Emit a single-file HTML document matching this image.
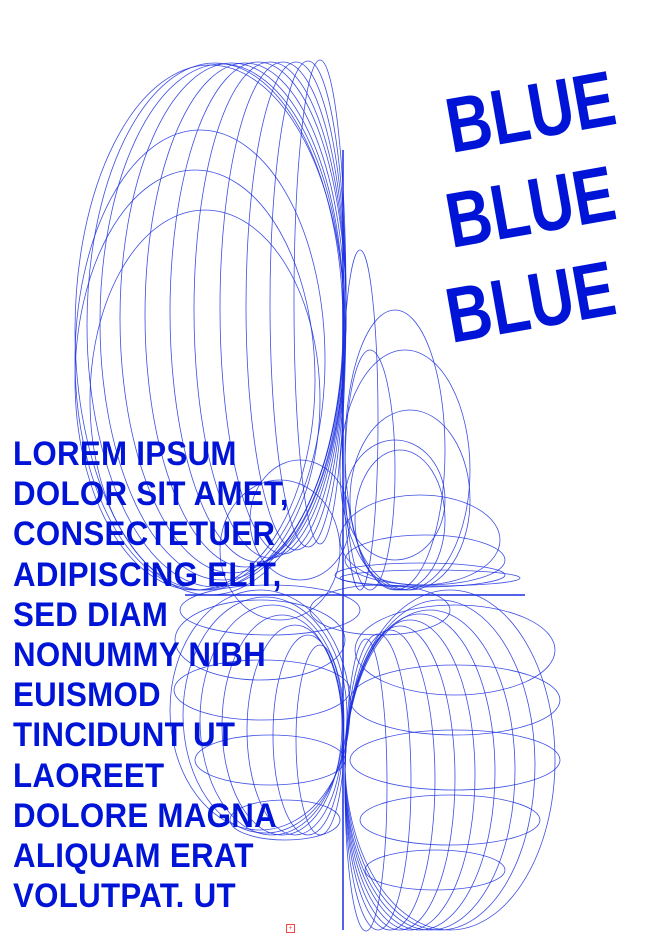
<!DOCTYPE html>
<html><head><meta charset="utf-8">
<style>
html,body{margin:0;padding:0;background:#fff;}
#poster{position:relative;width:660px;height:936px;overflow:hidden;background:#fff;}
svg{position:absolute;left:0;top:0;}
.blue{position:absolute;font-family:"Liberation Sans",sans-serif;font-weight:bold;color:#0014d8;font-size:78px;letter-spacing:0px;transform:rotate(-10deg) scaleX(0.8);transform-origin:left top;line-height:1}
#body-text{position:absolute;left:13px;top:434px;font-family:"Liberation Sans",sans-serif;font-weight:bold;color:#0014d8;font-size:34px;line-height:40.2px;letter-spacing:0.3px;white-space:pre;transform:scaleX(0.92);transform-origin:left top}
#mark{position:absolute;left:286px;top:924px;width:7px;height:7px;border:1px solid #f44;font-size:7px;line-height:7px;text-align:center;color:#f44;font-family:"Liberation Sans",sans-serif}
</style></head>
<body>
<div id="poster">
<svg id="wire" width="660" height="936"></svg>
<div class="blue" style="left:440px;top:88px">BLUE</div>
<div class="blue" style="left:440px;top:183px">BLUE</div>
<div class="blue" style="left:440px;top:278px">BLUE</div>
<div id="body-text">LOREM IPSUM
DOLOR SIT AMET,
CONSECTETUER
ADIPISCING ELIT,
SED DIAM
NONUMMY NIBH
EUISMOD
TINCIDUNT UT
LAOREET
DOLORE MAGNA
ALIQUAM ERAT
VOLUTPAT. UT</div>
<div id="mark">+</div>
</div>
<script>
// ellipse families: [cx, cy, rx, ry]
const upperLoop = [[210,330,135,265],[215,325,128,262],[222,322,122,258],[232,318,112,255],[245,315,100,252],[258,312,88,250],[270,310,76,248],[283,308,63,246],[296,306,50,244],[308,304,38,243],[320,302,26,242],[200,360,125,230],[195,380,120,210],[205,400,115,190]];
const upperRight = [[395,450,50,140],[405,470,65,120],[410,500,60,90],[400,520,45,70],[420,540,80,45],[425,560,80,25],[420,575,85,12],[430,578,90,8],[360,420,18,170],[370,470,25,120]];
const lowerRight = [[450,760,105,170],[440,765,95,165],[430,770,85,160],[420,772,75,158],[410,775,65,155],[400,778,55,152],[390,780,45,150],[378,782,33,148],[366,785,21,146],[455,650,100,45],[455,700,105,35],[455,760,105,30],[450,820,90,25],[435,870,70,20]];
const lowerLeft = [[260,710,90,120],[265,715,82,118],[272,720,72,115],[282,725,60,110],[295,730,48,105],[308,735,35,100],[320,740,24,95],[260,640,85,40],[262,690,88,30],[270,760,75,25],[285,820,55,20]];
const midRings = [[280,550,60,70],[300,520,50,60],[395,500,50,60],[380,610,70,25],[270,610,90,25]];
const svg=document.getElementById('wire');
const NS='http://www.w3.org/2000/svg';
function drawFamily(arr,name,w,op){
  arr.forEach(function(e,i){
    const el=document.createElementNS(NS,'ellipse');
    el.setAttribute('cx',e[0]);el.setAttribute('cy',e[1]);
    el.setAttribute('rx',e[2]);el.setAttribute('ry',e[3]);
    el.setAttribute('fill','none');el.setAttribute('stroke','#1a2ee0');
    el.setAttribute('stroke-width',w);el.setAttribute('opacity',op);
    
    
    svg.appendChild(el);
  });
}
drawFamily(upperLoop,'upper-loop',0.8,0.85);
drawFamily(upperRight,'upper-right',0.8,0.85);
drawFamily(lowerRight,'lower-right',0.8,0.85);
drawFamily(lowerLeft,'lower-left',0.8,0.85);
drawFamily(midRings,'mid-ring',0.8,0.85);
const axes=[[343,150,343,930],[185,595,525,595]];
axes.forEach(function(a){
  const l=document.createElementNS(NS,'line');
  l.setAttribute('x1',a[0]);l.setAttribute('y1',a[1]);l.setAttribute('x2',a[2]);l.setAttribute('y2',a[3]);
  l.setAttribute('stroke','#1a2ee0');l.setAttribute('stroke-width',1.5);
  
  
  svg.appendChild(l);
});
</script>
</body></html>
